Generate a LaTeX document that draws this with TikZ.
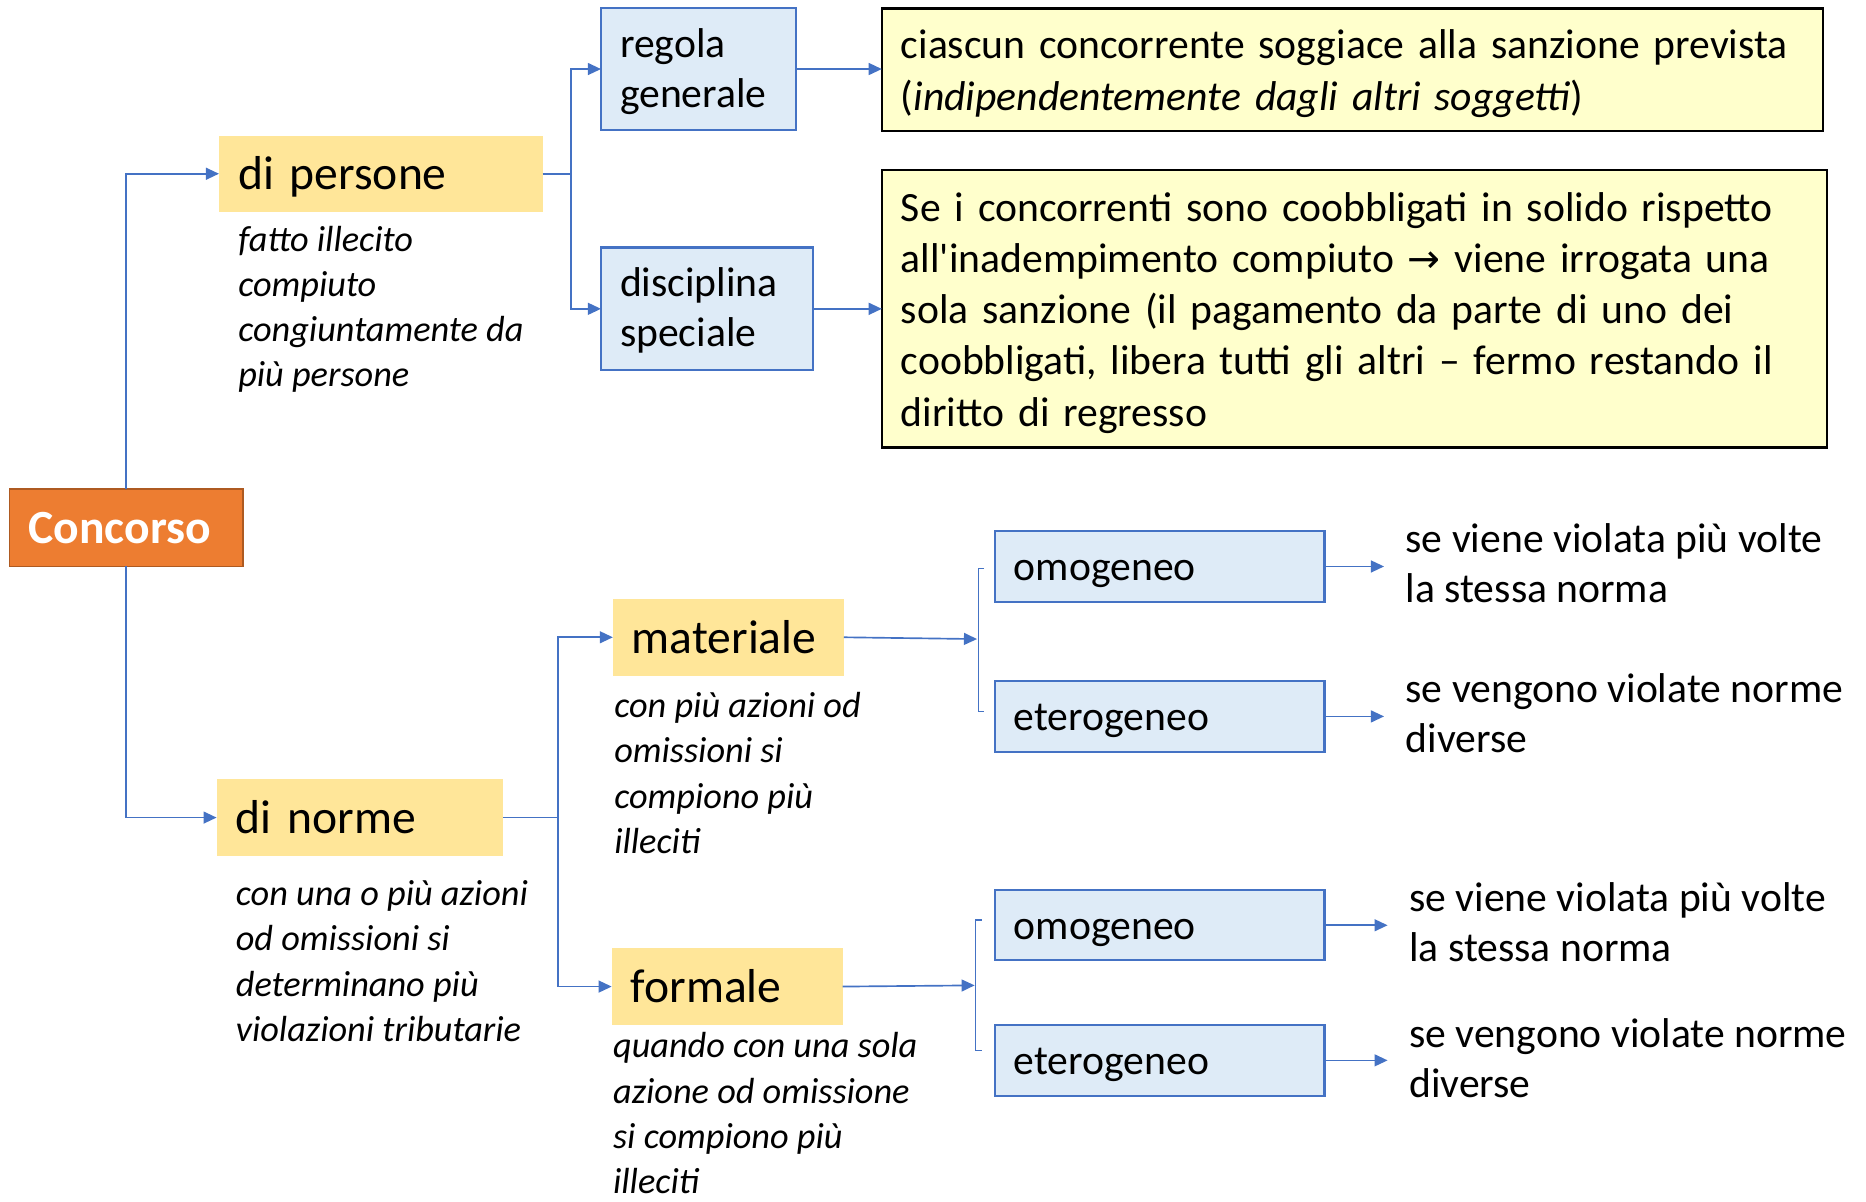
\documentclass[tikz,border=0pt]{standalone}
\usepackage{fontspec}
\setmainfont{Carlito}
\newfontfamily\arrowfont{DejaVu Sans}
\usetikzlibrary{arrows.meta}
\definecolor{orfill}{HTML}{ED7D31}
\definecolor{ordraw}{HTML}{AE5A21}
\definecolor{headfill}{HTML}{FFE699}
\definecolor{bfill}{HTML}{DEEBF7}
\definecolor{bdraw}{HTML}{4472C4}
\definecolor{nfill}{HTML}{FFFFCC}
\newcommand{\fhead}{\fontsize{40}{48}\selectfont}
\newcommand{\fbody}{\fontsize{35}{42}\selectfont}
\newcommand{\fnote}{\fontsize{35}{43}\selectfont}
\newcommand{\fital}{\fontsize{30.5}{38}\selectfont\itshape}
\begin{document}
\begin{tikzpicture}[x=1pt,y=-1pt,
  box/.style={anchor=north west, outer sep=0pt, inner xsep=16pt, inner ysep=0pt, align=left},
  concbox/.style={box, fill=orfill, draw=ordraw, line width=1.5pt, text=white, font=\fontsize{40}{48}\selectfont\bfseries},
  headbox/.style={box, fill=headfill, font=\fhead, text height=31pt, text depth=4pt},
  bluebox/.style={box, fill=bfill, draw=bdraw, line width=1.8pt, font=\fbody},
  oneline/.style={text height=27.5pt, text depth=3.5pt},
  notebox/.style={box, fill=nfill, draw=black, line width=2pt, font=\fnote},
  itxt/.style={anchor=base west, inner sep=0pt, align=left, font=\fital},
  rtxt/.style={anchor=base west, inner sep=0pt, align=left, font=\fbody},
  conn/.style={draw=bdraw, line width=1.4pt, -{Triangle[length=11pt,width=10pt]}},
  plainline/.style={draw=bdraw, line width=1.4pt}
]
\useasboundingbox (0,0) rectangle (1568,1010);

% main nodes
\node[concbox, minimum width=196pt, minimum height=65pt, text width=164pt] (conc) at (8,411) {Concorso};
\node[headbox, minimum width=272pt, minimum height=64pt, text width=240pt] (pers) at (184,114) {di persone};
\node[headbox, minimum width=241pt, minimum height=64pt, text width=209pt] (norm) at (182,655) {di norme};

\node[bluebox, minimum width=164pt, minimum height=102pt, text width=132pt, text height=28pt, text depth=47pt] (reg) at (505,7) {regola\\generale};
\node[bluebox, minimum width=178pt, minimum height=103pt, text width=146pt, text height=28pt, text depth=48pt] (disc) at (505,208) {disciplina\\speciale};

\node[notebox, minimum width=791pt, minimum height=103pt, text width=759pt, text height=28pt, text depth=46pt] (note1) at (741,7)
  {ciascun concorrente soggiace alla sanzione prevista\\(\textit{indipendentemente dagli altri soggetti})};
\node[notebox, minimum width=794pt, minimum height=233pt, text width=762pt, text height=28pt, text depth=175pt] (note2) at (741,143)
  {Se i concorrenti sono coobbligati in solido rispetto\\all\textquotesingle inadempimento compiuto {\arrowfont\fontsize{33}{43}\selectfont →} viene irrogata una\\sola sanzione (il pagamento da parte di uno dei\\coobbligati, libera tutti gli altri – fermo restando il\\diritto di regresso};

\node[headbox, minimum width=194pt, minimum height=65pt, text width=162pt] (mat) at (515,503) {materiale};
\node[headbox, minimum width=194pt, minimum height=64pt, text width=162pt] (form) at (514,797) {formale};

\node[bluebox, oneline, minimum width=277pt, minimum height=60pt, text width=245pt] (om1) at (836,446) {omogeneo};
\node[bluebox, oneline, minimum width=277pt, minimum height=60pt, text width=245pt] (et1) at (836,572) {eterogeneo};
\node[bluebox, oneline, minimum width=277pt, minimum height=59pt, text width=245pt] (om2) at (836,748) {omogeneo};
\node[bluebox, oneline, minimum width=277pt, minimum height=60pt, text width=245pt] (et2) at (836,861) {eterogeneo};

% italic descriptions (anchored at the baseline of the last line)
\node[itxt] (it1) at (200,325) {fatto illecito\\compiuto\\congiuntamente da\\più persone};
\node[itxt] (it2) at (198,875) {con una o più azioni\\od omissioni si\\determinano più\\violazioni tributarie};
\node[itxt] (it3) at (516,717) {con più azioni od\\omissioni si\\compiono più\\illeciti};
\node[itxt] (it4) at (515,1003) {quando con una sola\\azione od omissione\\si compiono più\\illeciti};

% right texts (anchored at the baseline of the last line)
\node[rtxt] (t1) at (1181,506) {se viene violata più volte\\la stessa norma};
\node[rtxt] (t2) at (1181,632) {se vengono violate norme\\diverse};
\node[rtxt] (t3) at (1184,808) {se viene violata più volte\\la stessa norma};
\node[rtxt] (t4) at (1184,922) {se vengono violate norme\\diverse};

% junctions
\coordinate (j1) at (480,146);
\coordinate (j2) at (469,687);
\coordinate (b1) at (821,537);
\coordinate (b2) at (819,828);

% connectors
\draw[conn] (conc.north) |- (pers.west);
\draw[conn] (conc.south) |- (norm.west);
\draw[plainline] (pers.east) -- (j1);
\draw[conn] (j1) |- (reg.west);
\draw[conn] (j1) |- (disc.west);
\draw[conn] (reg.east) -- (reg.east -| note1.west);
\draw[conn] (disc.east) -- (disc.east -| note2.west);
\draw[plainline] (norm.east) -- (j2);
\draw[conn] (j2) |- (mat.west);
\draw[conn] (j2) |- (form.west);
\draw[conn] (mat.east) -- (b1);
\draw[conn] (form.east) -- (b2);

% brackets
\draw[plainline, line width=1pt] (827,478) -- (822,478) -- (822,598) -- (827,598);
\draw[plainline, line width=1pt] (825,773) -- (820,773) -- (820,883) -- (825,883);

\draw[conn, shorten >=18pt] (om1.east) -- (om1.east -| t1.west);
\draw[conn, shorten >=18pt] (et1.east) -- (et1.east -| t2.west);
\draw[conn, shorten >=18pt] (om2.east) -- (om2.east -| t3.west);
\draw[conn, shorten >=18pt] (et2.east) -- (et2.east -| t4.west);
\end{tikzpicture}
\end{document}
